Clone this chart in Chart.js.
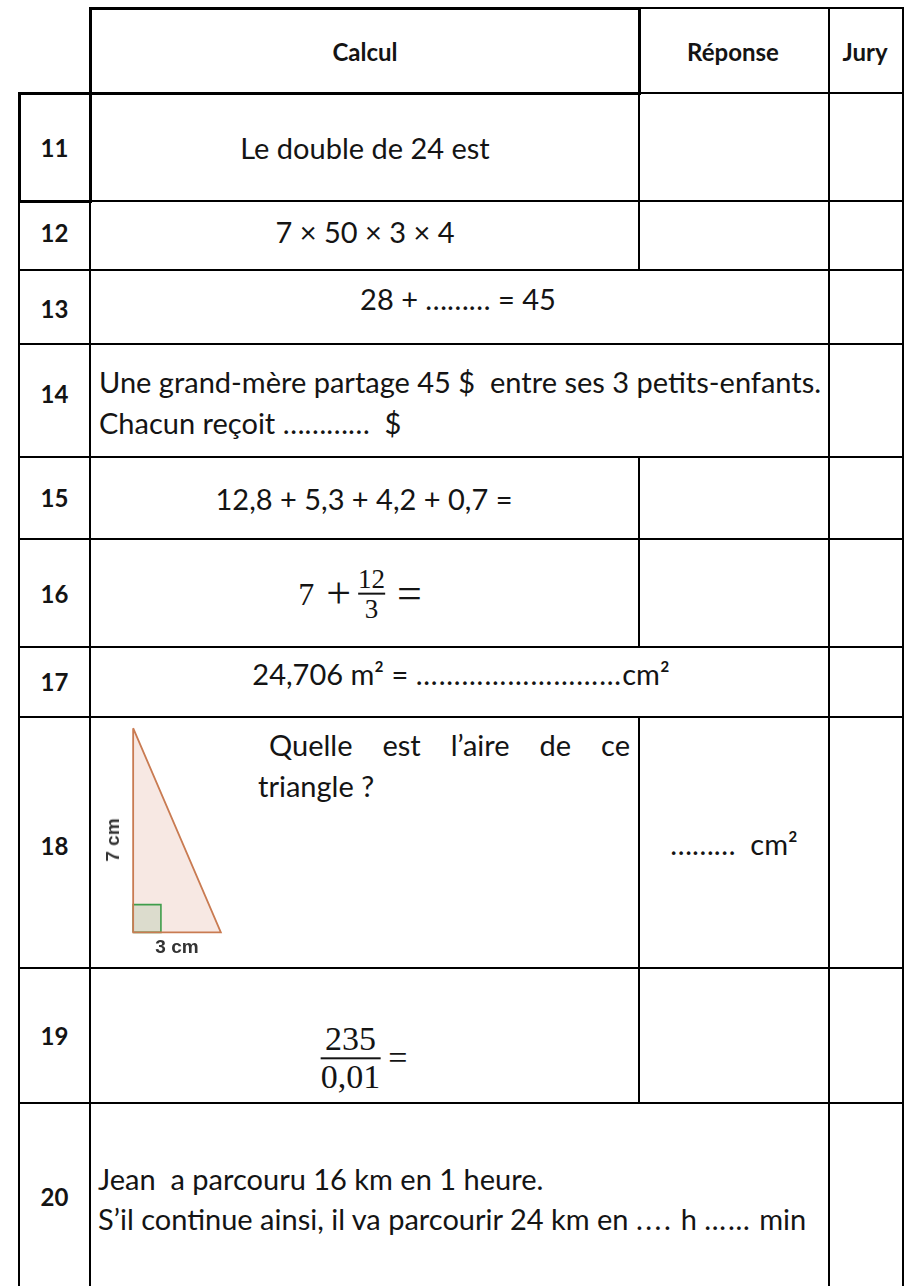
<!DOCTYPE html>
<html lang="fr">
<head>
  <meta charset="UTF-8">
  <title>Calcul mental 11 à 20</title>
  <script src="https://cdn.jsdelivr.net/npm/chart.js"></script>
  <style>
    body {
      margin: 0;
      width: 910px;
      height: 1286px;
      position: relative;
      overflow: hidden;
      background: #fff;
      color: #141414;
      font-family: 'Lato', 'Open Sans', sans-serif;
    }
    .ln { position: absolute; background: #000; }
    .t {
      position: absolute;
      white-space: pre;
      font-size: 29px;
      line-height: 34px;
      transform: translate(-50%, -50%);
    }
    .t.left { transform: translate(0, -50%); }
    .b { font-weight: 700; font-size: 24px; }
    .dots { letter-spacing: 1.2px; }
    .math { font-family: 'Liberation Serif', 'DejaVu Serif', serif; display: flex; align-items: center; }
    .op { font-size: 44px; line-height: 1; }
    .frac { display: inline-flex; flex-direction: column; align-items: center; }
    .frac .bar { height: 2px; background: #141414; align-self: stretch; }
    .frac span { line-height: 1.05; }
    #tri { position: absolute; left: 120px; top: 718px; }
    .lab { position: absolute; font-family: 'Liberation Sans', Arial, sans-serif; font-weight: 700; font-size: 19px; color: #333; transform: translate(-50%, -50%); white-space: pre; }
  </style>
</head>
<body>
  <div id="grid"></div>

  <!-- en-têtes -->
  <div class="t b" style="left:365px; top:52px;">Calcul</div>
  <div class="t b" style="left:733px; top:52px;">Réponse</div>
  <div class="t b" style="left:865px; top:52px;">Jury</div>

  <div id="nums"></div>

  <div class="t" style="left:365px; top:148px;">Le double de 24 est</div>
  <div class="t" style="left:365px; top:232px;">7 × 50 × 3 × 4</div>
  <div class="t" style="left:458px; top:299px;">28 + ……… = 45</div>
  <div class="t left" style="left:99px; top:382px;">Une grand-mère partage 45 $  entre ses 3 petits-enfants.</div>
  <div class="t left" style="left:99px; top:423px;">Chacun reçoit …………  $</div>
  <div class="t" style="left:364px; top:499px;">12,8 + 5,3 + 4,2 + 0,7 =</div>

  <div class="t math" style="left:360px; top:594px; font-size:32px;">
    <span>7</span>
    <span class="op" style="margin:0 7px 0 12px;">+</span>
    <span class="frac" style="font-size:27px;"><span>12</span><span class="bar"></span><span>3</span></span>
    <span class="op" style="margin-left:12px;">=</span>
  </div>

  <div class="t" style="left:461px; top:674px;">24,706 m² = <span class="dots">………………………</span>cm²</div>

  <div class="t left" style="left:269px; top:745px; width:361px; display:flex; justify-content:space-between;">
    <span>Quelle</span><span>est</span><span>l’aire</span><span>de</span><span>ce</span>
  </div>
  <div class="t left" style="left:258px; top:786px;">triangle ?</div>
  <div class="t" style="left:734px; top:844px;">………  cm²</div>

  <canvas id="tri" width="114" height="226"></canvas>
  <div class="lab" id="labV" style="left:113px; top:840px; transform:translate(-50%,-50%) rotate(-90deg);"></div>
  <div class="lab" id="labH" style="left:177px; top:947px;"></div>

  <div class="t math" style="left:364px; top:1058px; font-size:34px;">
    <span class="frac"><span>235</span><span class="bar"></span><span>0,01</span></span>
    <span style="margin-left:8px;">=</span>
  </div>

  <div class="t left" style="left:98px; top:1179px;">Jean  a parcouru 16 km en 1 heure.</div>
  <div class="t left" style="left:98px; top:1219px;">S’il continue ainsi, il va parcourir 24 km en <span style="letter-spacing:2.5px;">....</span> h <span style="letter-spacing:2px;">……</span> min</div>

  <script>
    // numéros des questions
    const rowNumbers = ['11', '12', '13', '14', '15', '16', '17', '18', '19', '20'];
    // triangle rectangle : côtés de l'angle droit 3 cm et 7 cm
    const triangleX = [0, 0, 3, 0];
    const triangleY = [7, 0, 0, 7];
    // petit carré de l'angle droit
    const rightAngleX = [0, 0.95, 0.95, 0, 0];
    const rightAngleY = [0, 0, 0.95, 0.95, 0];
    const sideLabels = ['7 cm', '3 cm'];

    // lignes du tableau : [x1, y1, x2, y2, épaisseur]
    const thin = 2, thick = 3;
    const lines = [
      [90, 8, 639, 8, thick], [639, 8, 903, 8, thin],
      [19, 93, 639, 93, thick], [639, 93, 903, 93, thin],
      [19, 201, 90, 201, thick], [90, 201, 903, 201, thin],
      [19, 270, 903, 270, thin], [19, 344, 903, 344, thin],
      [19, 457, 903, 457, thin], [19, 539, 903, 539, thin],
      [19, 647, 903, 647, thin], [19, 717, 903, 717, thin],
      [19, 968, 903, 968, thin], [19, 1103, 903, 1103, thin],
      [19, 93, 19, 201, thick], [19, 201, 19, 1290, thin],
      [90, 8, 90, 201, thick], [90, 201, 90, 1290, thin],
      [639, 8, 639, 93, thick], [639, 93, 639, 270, thin],
      [639, 457, 639, 647, thin], [639, 717, 639, 1103, thin],
      [829, 8, 829, 1290, thin], [903, 8, 903, 1290, thin]
    ];
    const grid = document.getElementById('grid');
    lines.forEach(([x1, y1, x2, y2, w]) => {
      const d = document.createElement('div');
      d.className = 'ln';
      if (y1 === y2) {
        d.style.cssText = `left:${x1 - w / 2}px;top:${y1 - w / 2}px;width:${x2 - x1 + w}px;height:${w}px`;
      } else {
        d.style.cssText = `left:${x1 - w / 2}px;top:${y1 - w / 2}px;width:${w}px;height:${y2 - y1 + w}px`;
      }
      grid.appendChild(d);
    });

    const rowCenters = [148, 233, 309, 394, 498, 594, 682, 846, 1036, 1197];
    const nums = document.getElementById('nums');
    rowNumbers.forEach((n, i) => {
      const d = document.createElement('div');
      d.className = 't b';
      d.style.left = '54.5px';
      d.style.top = rowCenters[i] + 'px';
      d.textContent = n;
      nums.appendChild(d);
    });

    document.getElementById('labV').textContent = sideLabels[0];
    document.getElementById('labH').textContent = sideLabels[1];

    const pts = (xs, ys) => xs.map((x, i) => ({ x, y: ys[i] }));

    new Chart(document.getElementById('tri').getContext('2d'), {
      type: 'scatter',
      data: {
        datasets: [
          { data: pts(triangleX, triangleY), showLine: true, fill: 'shape', backgroundColor: '#f7e8e3',
            borderWidth: 0, pointRadius: 0, order: 3 },
          { data: pts(rightAngleX, rightAngleY), showLine: true, fill: 'shape', backgroundColor: '#dcdccd',
            borderColor: '#3f9d4b', borderWidth: 1.6, pointRadius: 0, order: 2 },
          { data: pts(triangleX, triangleY), showLine: true, fill: false, borderColor: '#c97b52',
            borderWidth: 1.8, pointRadius: 0, order: 1 }
        ]
      },
      options: {
        responsive: false,
        animation: false,
        layout: { padding: 0 },
        plugins: { legend: { display: false }, tooltip: { enabled: false } },
        scales: {
          x: { type: 'linear', min: -0.45, max: 3.45, display: false },
          y: { type: 'linear', min: -0.4, max: 7.35, display: false }
        }
      }
    });
  </script>
</body>
</html>
